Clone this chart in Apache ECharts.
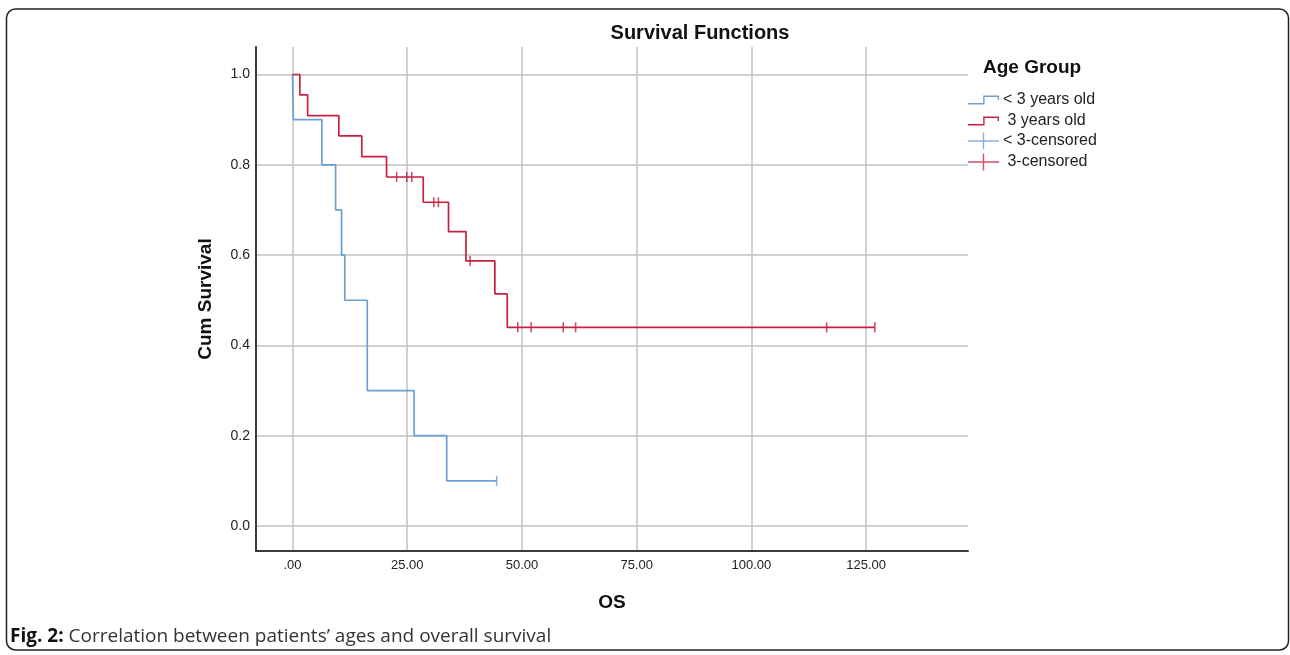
<!DOCTYPE html>
<html>
<head>
<meta charset="utf-8">
<script src="https://cdn.jsdelivr.net/npm/echarts@6/dist/echarts.min.js"></script>
<style>
html,body{margin:0;padding:0;background:#fff;}
#chart{width:1290px;height:655px;}
</style>
</head>
<body>
<div id="chart"></div>
<script>
// ---- data ----
const xTicks = [0, 25, 50, 75, 100, 125];
const yTicks = [0, 0.2, 0.4, 0.6, 0.8, 1.0];

// < 3 years old (Kaplan-Meier steps)
const blueTimes = [0, 0.2, 6.4, 9.4, 10.7, 11.4, 16.3, 26.5, 33.6, 44.5];
const blueSurv  = [1.0, 0.9, 0.8, 0.7, 0.6, 0.5, 0.3, 0.2, 0.1, 0.1];
const blueCensorTimes = [44.5];
const blueCensorSurv  = [0.1];

// 3 years old (Kaplan-Meier steps)
const redTimes = [0, 1.6, 3.3, 10.1, 15.1, 20.5, 28.5, 34.0, 37.8, 44.1, 46.8, 126.9];
const redSurv  = [1.0, 0.955, 0.909, 0.864, 0.818, 0.773, 0.717, 0.652, 0.587, 0.514, 0.440, 0.440];
const redCensorTimes = [22.7, 24.9, 26.0, 30.8, 31.8, 38.7, 49.1, 52.0, 59.0, 61.7, 116.4, 126.9];
const redCensorSurv  = [0.773, 0.773, 0.773, 0.717, 0.717, 0.587, 0.440, 0.440, 0.440, 0.440, 0.440, 0.440];

const seriesNames = ['< 3 years old', ' 3 years old', '< 3-censored', ' 3-censored'];

const zip = (a, b) => a.map((v, i) => [v, b[i]]);

const BLUE = '#6c9fd3';
const RED = '#c8203f';
const GRID = '#c0c0c0';
const AXIS = '#3a3a3a';
const FONT = 'Liberation Sans, Arial, sans-serif';

const stepIcon = 'path://M0,7.6 L15.2,7.6 L15.2,0 L31,0 L31,4.6 L29.6,4.6 L29.6,1.4 L16.6,1.4 L16.6,9 L0,9 Z';
const plusIcon = 'path://M0,7.8 L14.8,7.8 L14.8,0 L16.2,0 L16.2,7.8 L31,7.8 L31,9.2 L16.2,9.2 L16.2,17 L14.8,17 L14.8,9.2 L0,9.2 Z';

const chart = echarts.init(document.getElementById('chart'));
chart.setOption({
  backgroundColor: '#ffffff',
  animation: false,
  title: [
    {
      text: 'Survival Functions',
      left: 700, top: 23, textAlign: 'center', padding: 0,
      textStyle: {fontFamily: FONT, fontSize: 20, fontWeight: 'bold', color: '#111'}
    },
    {
      text: 'Age Group',
      left: 983, top: 58, padding: 0,
      textStyle: {fontFamily: FONT, fontSize: 19, fontWeight: 'bold', color: '#111'}
    }
  ],
  legend: [
    {
      orient: 'vertical', left: 968, top: 90, padding: 0,
      itemWidth: 31, itemHeight: 9, itemGap: 1,
      symbolKeepAspect: false, selectedMode: false,
      itemStyle: {borderWidth: 0},
      textStyle: {fontFamily: FONT, fontSize: 16, color: '#222', lineHeight: 20, padding: [0,0,0,-1]},
      data: [{name: seriesNames[0], icon: stepIcon}, {name: seriesNames[1], icon: stepIcon}]
    },
    {
      orient: 'vertical', left: 968, top: 131, padding: 0,
      itemWidth: 31, itemHeight: 17, itemGap: 1,
      symbolKeepAspect: false, selectedMode: false,
      itemStyle: {borderWidth: 0},
      textStyle: {fontFamily: FONT, fontSize: 16, color: '#222', lineHeight: 20, padding: [0,0,0,-1]},
      data: [{name: seriesNames[2], icon: plusIcon}, {name: seriesNames[3], icon: plusIcon}]
    }
  ],
  grid: {left: 256, right: 322, top: 47, bottom: 104, containLabel: false},
  xAxis: {
    type: 'value', min: -7.95, max: 147.2,
    name: 'OS', nameLocation: 'middle', nameGap: 42,
    nameTextStyle: {fontFamily: FONT, fontSize: 19, fontWeight: 'bold', color: '#111'},
    axisLine: {show: true, onZero: false, lineStyle: {color: AXIS, width: 2}},
    axisTick: {show: false, customValues: xTicks},
    axisLabel: {
      customValues: xTicks, margin: 8,
      fontFamily: FONT, fontSize: 13, color: '#222',
      formatter: v => (v === 0 ? '.00' : v.toFixed(2))
    },
    splitLine: {show: true, lineStyle: {color: GRID, width: 1.5}}
  },
  yAxis: {
    type: 'value', min: -0.0554, max: 1.0609,
    name: 'Cum Survival', nameLocation: 'middle', nameGap: 41, nameRotate: 90,
    nameTextStyle: {fontFamily: FONT, fontSize: 19, fontWeight: 'bold', color: '#111'},
    axisLine: {show: true, onZero: false, lineStyle: {color: AXIS, width: 2}},
    axisTick: {show: false, customValues: yTicks},
    axisLabel: {
      customValues: yTicks, margin: 6,
      fontFamily: FONT, fontSize: 14, color: '#222',
      formatter: v => v.toFixed(1)
    },
    splitLine: {show: true, lineStyle: {color: GRID, width: 1.5}}
  },
  series: [
    {
      name: seriesNames[0], type: 'line', step: 'end', symbol: 'none',
      data: zip(blueTimes, blueSurv),
      itemStyle: {color: BLUE}, lineStyle: {color: BLUE, width: 1.7},
      z: 3, silent: true
    },
    {
      name: seriesNames[1], type: 'line', step: 'end', symbol: 'none',
      data: zip(redTimes, redSurv),
      itemStyle: {color: RED}, lineStyle: {color: RED, width: 1.7},
      z: 4, silent: true
    },
    {
      name: seriesNames[2], type: 'scatter', symbol: 'rect', symbolSize: [1.6, 10],
      data: zip(blueCensorTimes, blueCensorSurv),
      itemStyle: {color: BLUE}, z: 5, silent: true
    },
    {
      name: seriesNames[3], type: 'scatter', symbol: 'rect', symbolSize: [1.6, 10],
      data: zip(redCensorTimes, redCensorSurv),
      itemStyle: {color: RED}, z: 6, silent: true
    }
  ],
  graphic: [
    {
      type: 'rect', silent: true, z: 0,
      shape: {x: 6.5, y: 9, width: 1282, height: 641, r: 9},
      style: {fill: 'none', stroke: '#222', lineWidth: 1.5}
    },
    {
      type: 'text', left: 10, top: 627, silent: true,
      style: {
        text: '{b|Fig. 2:} Correlation between patients’ ages and overall survival',
        fontFamily: 'Open Sans, Noto Sans, sans-serif', fontSize: 19, fill: '#333',
        rich: {b: {fontFamily: 'Open Sans, Noto Sans, sans-serif', fontSize: 19, fontWeight: 'bold', fill: '#111'}}
      }
    }
  ]
});
</script>
</body>
</html>
